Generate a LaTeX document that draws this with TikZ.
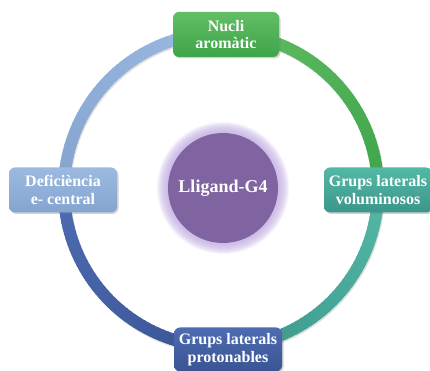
\documentclass[tikz,border=0pt]{standalone}
\usepackage{fontspec}
\setmainfont{Liberation Serif}
\usepackage{tikz}
\usetikzlibrary{shadows}

\definecolor{greenT}{RGB}{98,190,100}
\definecolor{greenB}{RGB}{62,164,74}
\definecolor{tealT}{RGB}{84,184,166}
\definecolor{tealB}{RGB}{58,150,138}
\definecolor{navyT}{RGB}{78,108,178}
\definecolor{navyB}{RGB}{58,84,148}
\definecolor{skyT}{RGB}{156,186,224}
\definecolor{skyB}{RGB}{132,164,208}
\definecolor{lilac}{RGB}{128,100,162}
\definecolor{glow}{RGB}{190,170,225}

\tikzset{
  topic/.style={rounded corners=6pt, minimum width=108pt, minimum height=45pt,
    align=center, text=white, inner sep=2pt,
    font=\bfseries\fontsize{16}{17.5}\selectfont,
    drop shadow={shadow xshift=1.5pt, shadow yshift=-1.5pt, opacity=0.35}},
  ringseg/.style={line width=12pt},
}

\begin{document}
\begin{tikzpicture}[x=1pt, y=1pt]
  \useasboundingbox (0,0) rectangle (430,371);
  \coordinate (hub) at (221,181);
  % shadow of the ring
  \draw[black, opacity=0.12, line width=12pt] ([shift={(1,-1.5)}]hub) circle (157);
  % four graded arcs
  \foreach \a in {0,2,...,88} {
    \pgfmathsetmacro\p{100-\a/88*100}
    \draw[ringseg, color=greenT!\p!greenB] ([shift={(90-\a:157)}]hub) arc[start angle=90-\a, end angle=87.5-\a, radius=157];
    \draw[ringseg, color=tealT!\p!tealB] ([shift={(-\a:157)}]hub) arc[start angle=-\a, end angle=-2.5-\a, radius=157];
    \draw[ringseg, color=navyB!\p!navyT] ([shift={(270-\a:157)}]hub) arc[start angle=270-\a, end angle=267.5-\a, radius=157];
    \draw[ringseg, color=skyB!\p!skyT] ([shift={(180-\a:157)}]hub) arc[start angle=180-\a, end angle=177.5-\a, radius=157];
  }
  % centre
  \coordinate (core) at (223,183);
  \foreach \r in {11,10,...,1}
    \fill[glow, opacity=0.13] (core) circle (55+\r);
  \node[circle, fill=lilac, minimum size=110pt, text=white,
        font=\bfseries\fontsize{18}{20}\selectfont] (ligand) at (core) {Lligand-G4};
  % topics
  \node[topic, top color=greenT, bottom color=greenB, minimum width=106pt] (nucli) at ([shift={(5,155.5)}]hub) {Nucli\\arom\`atic};
  \node[topic, top color=tealT, bottom color=tealB] (volum) at ([shift={(157,0)}]hub) {Grups laterals\\voluminosos};
  \node[topic, top color=navyT, bottom color=navyB, minimum height=44pt] (proton) at ([shift={(7,-159.5)}]hub) {Grups laterals\\protonables};
  \node[topic, top color=skyT, bottom color=skyB] (defic) at ([shift={(-158,0)}]hub) {Defici\`encia\\e- central};
\end{tikzpicture}
\end{document}
